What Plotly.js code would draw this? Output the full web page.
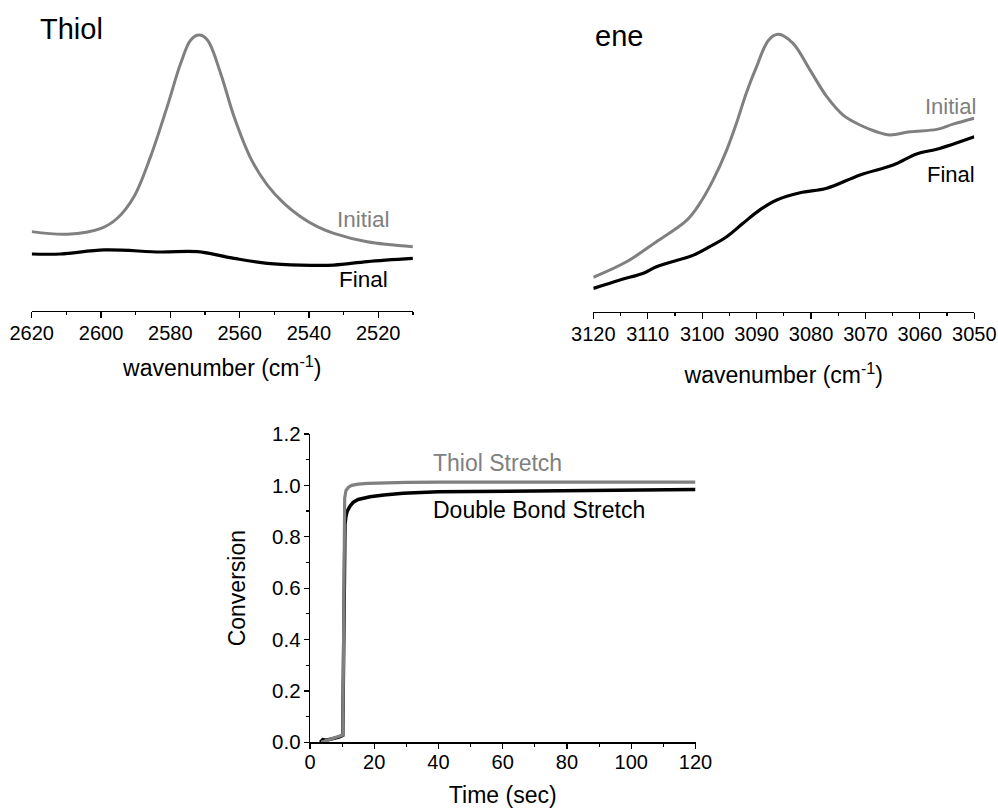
<!DOCTYPE html>
<html>
<head>
<meta charset="utf-8">
<script src="https://cdn.plot.ly/plotly-3.0.1.min.js"></script>
<style>html,body{margin:0;padding:0;background:#fff;}#chart{width:998px;height:808px;}</style>
</head>
<body>
<div id="chart"></div>
<script>
// ---- Thiol region (S-H stretch), arbitrary absorbance units ----
const thiolWn      = [2620, 2609.7, 2600, 2595.3, 2590.5, 2585.7, 2580.9, 2577, 2574.1, 2571.7, 2569.3, 2565.5, 2561.6, 2556.8, 2552, 2547.2, 2542.4, 2537.6, 2532.8, 2523.2, 2510];
const thiolInitial = [0.272, 0.263, 0.283, 0.318, 0.392, 0.530, 0.702, 0.851, 0.931, 0.948, 0.931, 0.817, 0.667, 0.524, 0.432, 0.369, 0.323, 0.289, 0.266, 0.237, 0.220];
const thiolFinalWn = [2620, 2611.6, 2599, 2582.8, 2572.2, 2561.6, 2552, 2542.4, 2532.8, 2523.2, 2510];
const thiolFinal   = [0.195, 0.195, 0.209, 0.202, 0.203, 0.180, 0.163, 0.157, 0.157, 0.169, 0.180];

// ---- ene region (=C-H stretch) ----
const eneWn      = [3120, 3113.9, 3108.4, 3102.8, 3100.4, 3098.0, 3095.5, 3093.7, 3091.9, 3090.0, 3087.8, 3086.0, 3083.3, 3080.2, 3077.1, 3074.1, 3071.0, 3068.0, 3065.5, 3061.8, 3056.9, 3053.9, 3050];
const eneInitial = [0.118, 0.171, 0.240, 0.314, 0.372, 0.451, 0.554, 0.646, 0.749, 0.840, 0.931, 0.951, 0.920, 0.829, 0.737, 0.674, 0.640, 0.617, 0.606, 0.617, 0.625, 0.643, 0.663];
const eneFinalWn = [3120, 3115.1, 3110.8, 3108.4, 3101.6, 3098.6, 3095.5, 3092.5, 3089.4, 3086.3, 3082.0, 3077.1, 3071.0, 3064.9, 3060.6, 3056.9, 3050];
const eneFinal   = [0.080, 0.109, 0.132, 0.154, 0.194, 0.223, 0.257, 0.303, 0.349, 0.383, 0.408, 0.423, 0.469, 0.503, 0.541, 0.557, 0.600];

// ---- Conversion vs time ----
const thiolTime = [3.5, 5, 7, 9, 10.2, 10.4, 10.5, 10.6, 10.8, 11.2, 12, 13, 15, 18, 22, 30, 40, 60, 80, 100, 120];
const thiolConv = [0, 0.006, 0.013, 0.021, 0.028, 0.3, 0.6, 0.85, 0.95, 0.98, 0.993, 1.0, 1.005, 1.008, 1.010, 1.012, 1.013, 1.013, 1.013, 1.013, 1.013];
const eneTime = [3.2, 4, 5, 7, 9, 10.2, 10.5, 10.7, 10.9, 11.2, 11.6, 12.5, 13.5, 15, 18.7, 23, 29, 40, 50, 60, 70, 80, 90, 100, 110, 120];
const eneConv = [0, 0.01, 0.008, 0.013, 0.02, 0.027, 0.3, 0.7, 0.85, 0.88, 0.9, 0.92, 0.935, 0.945, 0.956, 0.963, 0.969, 0.975, 0.976, 0.978, 0.979, 0.98, 0.981, 0.982, 0.983, 0.984];

const GRAY = '#808080';
const FONT = 'Liberation Sans, Arial, sans-serif';

const traces = [
  {x: thiolWn, y: thiolInitial, xaxis: 'x', yaxis: 'y', mode: 'lines', line: {color: GRAY, width: 3, shape: 'spline', smoothing: 1}, name: 'Initial'},
  {x: thiolFinalWn, y: thiolFinal, xaxis: 'x', yaxis: 'y', mode: 'lines', line: {color: '#000', width: 3.2, shape: 'spline', smoothing: 1}, name: 'Final'},
  {x: eneWn, y: eneInitial, xaxis: 'x2', yaxis: 'y2', mode: 'lines', line: {color: GRAY, width: 3, shape: 'spline', smoothing: 1}, name: 'Initial'},
  {x: eneFinalWn, y: eneFinal, xaxis: 'x2', yaxis: 'y2', mode: 'lines', line: {color: '#000', width: 3.2, shape: 'spline', smoothing: 1}, name: 'Final'},
  {x: eneTime, y: eneConv, xaxis: 'x3', yaxis: 'y3', mode: 'lines', line: {color: '#000', width: 3.5}, name: 'Double Bond Stretch'},
  {x: thiolTime, y: thiolConv, xaxis: 'x3', yaxis: 'y3', mode: 'lines', line: {color: GRAY, width: 3.2}, name: 'Thiol Stretch'}
];

function xAx(domain, range, dtick, minorD, titleText, standoff, lblOff) {
  return {
    domain: domain, range: range, tickmode: 'linear', dtick: dtick, tick0: 0,
    ticks: 'outside', ticklen: 6, tickwidth: 1.2, tickcolor: '#000',
    ticklabelstandoff: lblOff,
    showline: true, linecolor: '#000', linewidth: 1.3,
    showgrid: false, zeroline: false,
    minor: {ticks: 'outside', dtick: minorD, ticklen: 3, tickwidth: 1.2, tickcolor: '#000', showgrid: false},
    tickfont: {size: 20, color: '#000', family: FONT},
    title: {text: titleText, font: {size: 23, color: '#000', family: FONT}, standoff: standoff},
    automargin: false, fixedrange: true
  };
}

const layout = {
  width: 998, height: 808,
  margin: {l: 0, r: 0, t: 0, b: 0},
  paper_bgcolor: '#fff', plot_bgcolor: '#fff',
  showlegend: false,
  font: {family: FONT, color: '#000'},
  xaxis: Object.assign(xAx([0.03176, 0.41373], [2620, 2510], 20, 10, 'wavenumber (cm<sup>-1</sup>)', 17, -2), {anchor: 'y'}),
  yaxis: {domain: [0.61547, 0.97525], range: [0, 1], visible: false, anchor: 'x', fixedrange: true},
  xaxis2: Object.assign(xAx([0.59449, 0.97625], [3120, 3050], 10, 5, 'wavenumber (cm<sup>-1</sup>)', 23, -2), {anchor: 'y2'}),
  yaxis2: {domain: [0.61423, 0.97525], range: [0, 1], visible: false, anchor: 'x2', fixedrange: true},
  xaxis3: Object.assign(xAx([0.3106, 0.6969], [0, 120], 20, 10, 'Time (sec)', 18, -4), {anchor: 'y3', ticklen: 5}),
  yaxis3: {
    domain: [0.08131, 0.46287], range: [0, 1.2], anchor: 'x3',
    tickmode: 'linear', dtick: 0.2, tick0: 0, tickformat: '.1f',
    ticks: 'outside', ticklen: 5, tickwidth: 1.2, tickcolor: '#000',
    ticklabelstandoff: -1,
    showline: true, linecolor: '#000', linewidth: 1.3,
    showgrid: false, zeroline: false,
    minor: {ticks: 'outside', dtick: 0.1, ticklen: 3, tickwidth: 1.2, tickcolor: '#000', showgrid: false},
    tickfont: {size: 20.5, color: '#000', family: FONT},
    title: {text: 'Conversion', font: {size: 23, color: '#000', family: FONT}, standoff: 20},
    automargin: false, fixedrange: true
  },
  annotations: [
    {text: 'Thiol', xref: 'paper', yref: 'paper', x: 0.07214, y: 0.96411, xanchor: 'center', yanchor: 'middle', showarrow: false, font: {size: 29, color: '#000'}},
    {text: 'ene', xref: 'paper', yref: 'paper', x: 0.62, y: 0.9551, xanchor: 'center', yanchor: 'middle', showarrow: false, font: {size: 29, color: '#000'}},
    {text: 'Initial', xref: 'paper', yref: 'paper', x: 0.3644, y: 0.72871, xanchor: 'center', yanchor: 'middle', showarrow: false, font: {size: 22.5, color: GRAY}},
    {text: 'Final', xref: 'paper', yref: 'paper', x: 0.3640, y: 0.65446, xanchor: 'center', yanchor: 'middle', showarrow: false, font: {size: 22.5, color: '#000'}},
    {text: 'Initial', xref: 'paper', yref: 'paper', x: 0.9527, y: 0.86795, xanchor: 'center', yanchor: 'middle', showarrow: false, font: {size: 22, color: GRAY}},
    {text: 'Final', xref: 'paper', yref: 'paper', x: 0.9527, y: 0.78441, xanchor: 'center', yanchor: 'middle', showarrow: false, font: {size: 22, color: '#000'}},
    {text: 'Thiol Stretch', xref: 'paper', yref: 'paper', x: 0.4985, y: 0.42698, xanchor: 'center', yanchor: 'middle', showarrow: false, font: {size: 23, color: GRAY}},
    {text: 'Double Bond Stretch', xref: 'paper', yref: 'paper', x: 0.5401, y: 0.36881, xanchor: 'center', yanchor: 'middle', showarrow: false, font: {size: 23, color: '#000'}}
  ]
};

Plotly.newPlot('chart', traces, layout, {staticPlot: true, displayModeBar: false});
</script>
</body>
</html>
